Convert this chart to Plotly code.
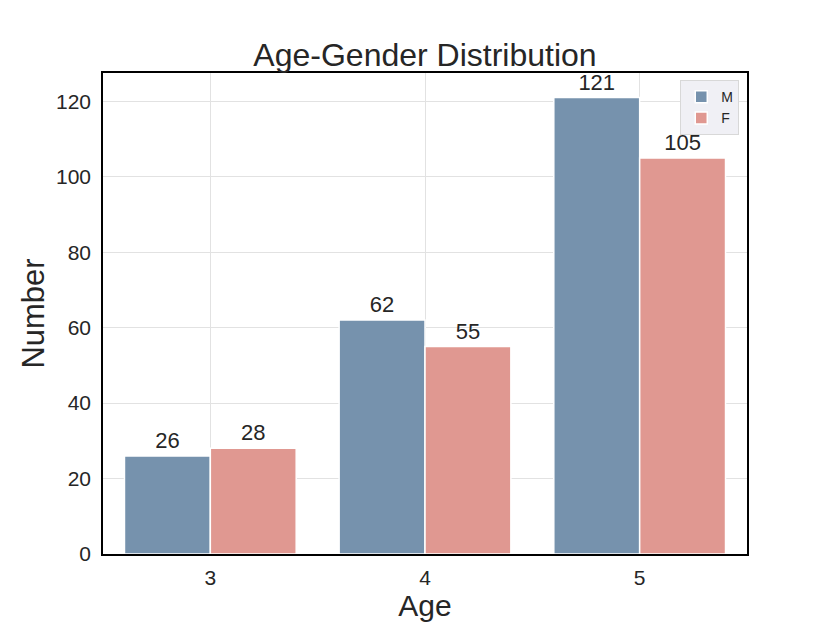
import plotly.graph_objects as go

ages = ["3", "4", "5"]
male = [26, 62, 121]
female = [28, 55, 105]

M_COLOR = "#7692ad"
F_COLOR = "#e09891"
TXT = "#262626"

fig = go.Figure()
fig.add_trace(go.Bar(x=ages, y=male, name="M", marker=dict(color=M_COLOR, line=dict(color="white", width=1.5)),
                     text=[str(v) for v in male], textposition="outside", cliponaxis=False,
                     textfont=dict(size=22, color=TXT)))
fig.add_trace(go.Bar(x=ages, y=female, name="F", marker=dict(color=F_COLOR, line=dict(color="white", width=1.5)),
                     text=[str(v) for v in female], textposition="outside", cliponaxis=False,
                     textfont=dict(size=22, color=TXT)))

fig.update_layout(
    width=830, height=623,
    margin=dict(l=95, r=91, t=65, b=77),
    paper_bgcolor="white", plot_bgcolor="white",
    font=dict(family="Liberation Sans, Arial, sans-serif", color=TXT),
    title=dict(text="Age-Gender Distribution", xref="paper", x=0.5, xanchor="center",
               yref="container", y=0.925, yanchor="middle",
               font=dict(size=32, color=TXT)),
    barmode="group", bargap=0.2, bargroupgap=0,
    legend=dict(x=0.988, y=0.985, xanchor="right", yanchor="top", bgcolor="#f0f0f5",
                bordercolor="#d8d8d8", borderwidth=1, font=dict(size=14, color=TXT),
                itemwidth=30, tracegroupgap=2),
    xaxis=dict(type="category", range=[-0.5, 2.5], showgrid=True, gridcolor="#e2e2e2",
               showline=True, linecolor="black", linewidth=1.5, mirror=True, automargin=False,
               ticks="", ticklabelstandoff=4, tickfont=dict(size=21, color=TXT),
               title=dict(text="Age", font=dict(size=30, color=TXT), standoff=4)),
    yaxis=dict(range=[0, 127.5], dtick=20, showgrid=True, gridcolor="#e2e2e2",
               showline=True, linecolor="black", linewidth=1.5, mirror=True, automargin=False,
               ticks="", ticklabelstandoff=6, tickfont=dict(size=21, color=TXT), zeroline=False,
               title=dict(text="Number", font=dict(size=31, color=TXT), standoff=2)),
)

fig.write_html("out.html")
